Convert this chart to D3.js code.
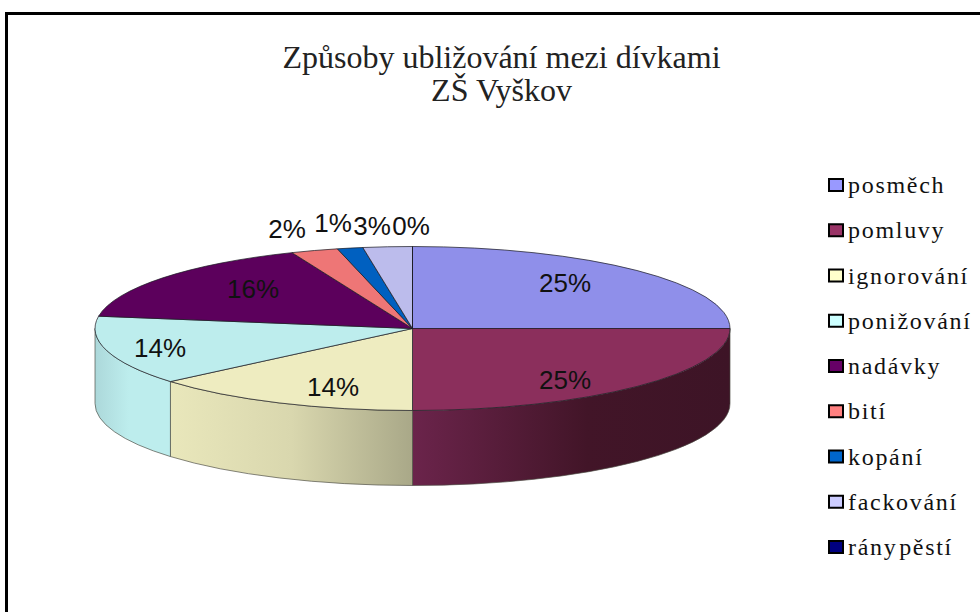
<!DOCTYPE html>
<html><head><meta charset="utf-8">
<script src="https://cdn.jsdelivr.net/npm/d3@7"></script>
<style>html,body{margin:0;padding:0;background:#fff;overflow:hidden}</style>
</head><body><svg id="c" width="980" height="612"></svg>
<script>
const categories = ["posměch","pomluvy","ignorování","ponižování","nadávky","bití","kopání","fackování","rány pěstí"];
const values = [25,25,13.8,13.6,16.4,2.4,1.3,2.5,0];
const titleLines = ["Způsoby ubližování mezi dívkami","ZŠ Vyškov"];
const legendColors = ["#9999ff","#993366","#ffffcc","#ccffff","#660066","#ff8080","#0066cc","#ccccff","#000080"];
const topColors = ["#8f8fea","#8b2f5c","#eeecc0","#bdeded","#5c005c","#ee7676","#0060c0","#bcbcec","#000070"];
const sideStops = [
  null,
  [[0,"#6b244b"],[0.55,"#421528"],[1,"#3d1426"]],
  [[0,"#e9e7bb"],[0.5,"#d9d7ae"],[1,"#a9a888"]],
  [[0,"#acd8da"],[0.45,"#bdeded"],[1,"#bdeded"]]
];

const W=980,H=612, cx=412.5, cy=328.5, rx=317.5, ry=82, depth=75;
const svg=d3.select("#c");
svg.append("rect").attr("width",W).attr("height",H).attr("fill","#fff");

const pie=d3.pie().sort(null).value(d=>d);
const arcs=pie(values);
const xAt=a=>cx+rx*Math.sin(a), yAt=a=>cy-ry*Math.cos(a);
const defs=svg.append("defs");

// sides (front half only, drawn before the top)
const sideG=svg.append("g");
arcs.forEach((d,i)=>{
  const a0=Math.max(d.startAngle,Math.PI/2), a1=Math.min(d.endAngle,3*Math.PI/2);
  if(a1<=a0||!sideStops[i]) return;
  const id="side"+i;
  const g=defs.append("linearGradient").attr("id",id).attr("gradientUnits","userSpaceOnUse")
    .attr("x1",xAt(a1)).attr("x2",xAt(a0)).attr("y1",0).attr("y2",0);
  sideStops[i].forEach(s=>g.append("stop").attr("offset",s[0]).attr("stop-color",s[1]));
  const seg=(x1,y1,cw)=>`A${rx},${ry} 0 0 ${cw} ${x1},${y1}`;
  const dstr=`M${xAt(a0)},${yAt(a0)}`+seg(xAt(a1),yAt(a1),1)+
    `L${xAt(a1)},${yAt(a1)+depth}`+seg(xAt(a0),yAt(a0)+depth,0)+"Z";
  sideG.append("path").attr("d",dstr).attr("fill",`url(#${id})`)
    .attr("stroke","#4a4a42").attr("stroke-opacity",.75).attr("stroke-width",.9);
});

// top face: d3.arc scaled to an ellipse
const arc=d3.arc().innerRadius(0).outerRadius(rx);
svg.append("g").attr("transform",`translate(${cx},${cy}) scale(1,${ry/rx})`)
  .selectAll("path").data(arcs).join("path")
  .attr("d",arc).attr("fill",(d,i)=>topColors[i])
  .attr("stroke","#1c1c24").attr("stroke-opacity",.72).attr("stroke-width",1)
  .attr("vector-effect","non-scaling-stroke");

// percent labels
const labelPos=[[565,283],[565,380],[333,387],[160,348],[253,289],[287,229],[333,223],[372,226],[411,226]];
svg.append("g").selectAll("text").data(arcs).join("text")
  .attr("x",(d,i)=>labelPos[i][0]).attr("y",(d,i)=>labelPos[i][1])
  .attr("dy","0.36em").attr("text-anchor","middle")
  .attr("font-family","'Liberation Sans',Arial,sans-serif").attr("font-size",26).attr("fill","#111")
  .text(d=>Math.round(d.value)+"%");

// title
svg.append("g").selectAll("text").data(titleLines).join("text")
  .attr("x",501.5).attr("y",(d,i)=>68+i*33).attr("text-anchor","middle")
  .attr("font-family","'Liberation Serif','Times New Roman',serif").attr("font-size",32).attr("fill","#222")
  .text(d=>d);

// legend
const ly=d3.scalePoint().domain(categories).range([185,547]);
const lg=svg.append("g").selectAll("g").data(categories).join("g").attr("transform",d=>`translate(0,${ly(d)})`);
lg.append("rect").attr("x",829).attr("y",-6).attr("width",14).attr("height",12)
  .attr("fill",(d,i)=>legendColors[i]).attr("stroke","#000").attr("stroke-width",2);
lg.append("text").attr("x",848).attr("y",8).attr("font-family","'Liberation Serif','Times New Roman',serif")
  .attr("font-size",24).attr("letter-spacing",1.7).attr("word-spacing",-6).attr("fill","#111").text(d=>d);

// frame
svg.append("path").attr("d",`M6.5,${H}V13.5H${W}`).attr("fill","none").attr("stroke","#000").attr("stroke-width",3);
</script></body></html>
